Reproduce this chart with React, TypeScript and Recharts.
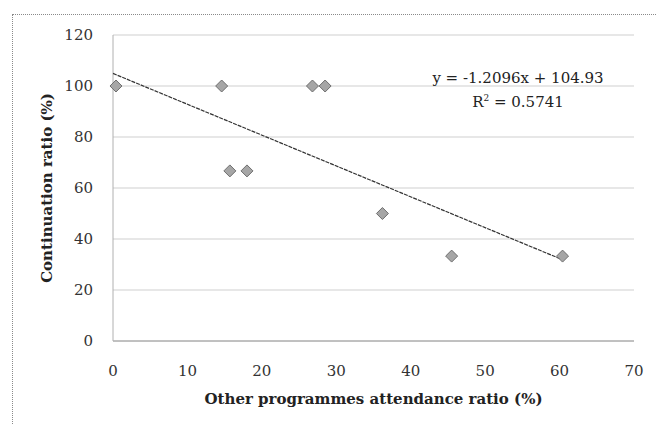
import React from "react";
import {
  ScatterChart,
  Scatter,
  XAxis,
  YAxis,
  CartesianGrid,
} from "recharts";

// attendance ratio (%) vs continuation ratio (%)
const attendance = [0.4, 14.6, 15.7, 18.0, 26.8, 28.5, 36.2, 45.5, 60.4];
const continuation = [100, 100, 66.7, 66.7, 100, 100, 50, 33.3, 33.3];

const xTicks = [0, 10, 20, 30, 40, 50, 60, 70];
const yTicks = [0, 20, 40, 60, 80, 100, 120];

// linear trend reported on the chart
const slope = -1.2096;
const intercept = 104.93;
const rSquared = 0.5741;
const trendRange = [0, 60.4];

const points = attendance.map((x, i) => ({ x, y: continuation[i] }));
const trend = trendRange.map((x) => ({ x, y: slope * x + intercept }));

const FONT = '"DejaVu Serif", "Liberation Serif", serif';

const Diamond = (props: any) => {
  const { cx, cy } = props;
  const r = 6;
  return (
    <polygon
      points={`${cx},${cy - r} ${cx + r},${cy} ${cx},${cy + r} ${cx - r},${cy}`}
      fill="#a6a6a6"
      stroke="#6f6f6f"
      strokeWidth={1}
    />
  );
};

export default function App() {
  return (
    <div
      style={{
        position: "absolute",
        left: 0,
        top: 0,
        width: 656,
        height: 424,
        background: "#fff",
        overflow: "hidden",
        fontFamily: FONT,
      }}
    >
      <div
        style={{
          position: "absolute",
          left: 12,
          top: 14,
          width: 660,
          height: 430,
          border: "1px dotted #8a8a8a",
        }}
      />
      <ScatterChart
        width={656}
        height={424}
        margin={{ top: 35, right: 22, bottom: 50, left: 53 }}
      >
        <CartesianGrid vertical={false} stroke="#cfcfcf" />
        <XAxis
          type="number"
          dataKey="x"
          domain={[0, 70]}
          ticks={xTicks}
          tickLine={false}
          axisLine={{ stroke: "#9a9a9a" }}
          tick={{ fontSize: 15, fill: "#333", fontFamily: FONT }}
          height={33}
          tickMargin={18}
          label={{
            value: "Other programmes attendance ratio (%)",
            position: "insideBottom",
            offset: -30,
            style: { fontSize: 15, fontWeight: "bold", fill: "#222", fontFamily: FONT },
          }}
        />
        <YAxis
          type="number"
          dataKey="y"
          domain={[0, 120]}
          ticks={yTicks}
          tickLine={false}
          axisLine={{ stroke: "#b0b0b0" }}
          tick={{ fontSize: 15, fill: "#333", fontFamily: FONT }}
          width={60}
          tickMargin={14}
          label={{
            value: "Continuation ratio (%)",
            angle: -90,
            position: "insideLeft",
            offset: -6,
            style: {
              fontSize: 15,
              fontWeight: "bold",
              fill: "#222",
              fontFamily: FONT,
              textAnchor: "middle",
            },
          }}
        />
        <Scatter
          data={trend}
          line={{ stroke: "#333", strokeWidth: 1.2, strokeDasharray: "4 1" }}
          shape={() => null}
          isAnimationActive={false}
        />
        <Scatter data={points} shape={Diamond} isAnimationActive={false} />
      </ScatterChart>
      <div
        style={{
          position: "absolute",
          left: 418,
          top: 68,
          width: 200,
          textAlign: "center",
          fontSize: 15,
          lineHeight: "20px",
          color: "#222",
        }}
      >
        <div>y = -{Math.abs(slope).toFixed(4)}x + {intercept}</div>
        <div>
          R<sup style={{ fontSize: 9 }}>2</sup> = {rSquared}
        </div>
      </div>
    </div>
  );
}
